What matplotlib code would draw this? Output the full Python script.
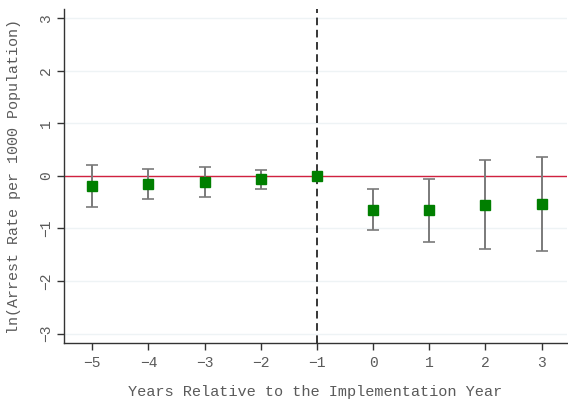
import numpy as np
import matplotlib.pyplot as plt

# Event-study estimates, years relative to implementation (-1 is the base year)
years = [-5, -4, -3, -2, -1, 0, 1, 2, 3]
coef = [-0.20, -0.15, -0.12, -0.06, 0.00, -0.65, -0.65, -0.56, -0.53]
ci_low = [-0.60, -0.43, -0.41, -0.25, 0.00, -1.03, -1.26, -1.39, -1.42]
ci_high = [0.20, 0.13, 0.17, 0.12, 0.00, -0.25, -0.05, 0.30, 0.36]
yticks = [-3, -2, -1, 0, 1, 2, 3]

text_color = "#5a5a5a"
plt.rcParams["font.family"] = ["Liberation Mono", "DejaVu Sans Mono"]

fig = plt.figure(figsize=(5.68, 4.05), dpi=100)
ax = fig.add_axes([0.113, 0.153, 0.885, 0.824])

for y in yticks:
    ax.axhline(y, color="#eef3f5", lw=1.0, zorder=0)
ax.axhline(0, color="#d1213f", lw=1.0, zorder=1)
ax.axvline(-1, color="black", lw=1.1, ls=(0, (5, 3)), zorder=1)

coef = np.array(coef)
yerr = np.vstack([coef - np.array(ci_low), np.array(ci_high) - coef])
has_ci = (yerr.sum(axis=0) > 0)
x = np.array(years)
ax.errorbar(x[has_ci], coef[has_ci], yerr=yerr[:, has_ci], fmt="none",
            ecolor="#7a7a7a", elinewidth=1.4, capsize=4, capthick=1.2, zorder=2)
ax.plot(x, coef, ls="none", marker="s", ms=7, color="#007f00",
        markeredgecolor="#007f00", zorder=3)

ax.set_xlim(-5.5, 3.45)
ax.set_ylim(-3.18, 3.17)
ax.set_xticks(years)
ax.set_yticks(yticks)
ax.set_xticklabels([f"\u2212{-v}" if v < 0 else str(v) for v in years])
ax.set_yticklabels([f"\u2212{-v}" if v < 0 else str(v) for v in yticks],
                   rotation=90, va="center")

for side in ["top", "right"]:
    ax.spines[side].set_visible(False)
for side in ["left", "bottom"]:
    ax.spines[side].set_color("#333333")
    ax.spines[side].set_linewidth(1.0)

ax.tick_params(axis="both", colors="#333333", labelcolor=text_color,
               labelsize=10.5, length=5, width=1.0)
ax.tick_params(axis="y", pad=3)
ax.tick_params(axis="x", pad=4)

ax.set_xlabel("Years Relative to the Implementation Year", color=text_color,
              fontsize=11, labelpad=11)
ax.set_ylabel("ln(Arrest Rate per 1000 Population)", color=text_color,
              fontsize=10.8, labelpad=13)

fig.savefig("out.png", dpi=100, facecolor="white")
